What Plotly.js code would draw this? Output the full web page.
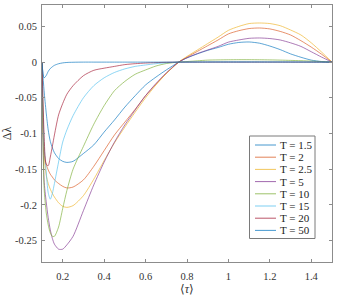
<!DOCTYPE html>
<html>
<head>
<meta charset="utf-8">
<script src="https://cdn.plot.ly/plotly-3.0.1.min.js"></script>
<style>html,body{margin:0;padding:0;background:#fff;}#chart{width:344px;height:299px;}</style>
</head>
<body>
<div id="chart"></div>
<script>
// ---- data ----
var tau = [0.1, 0.11, 0.12, 0.13, 0.14, 0.15, 0.16, 0.18, 0.2, 0.22, 0.25, 0.3, 0.35, 0.4, 0.45, 0.5, 0.55, 0.6, 0.65, 0.7, 0.76, 0.8, 0.85, 0.9, 0.95, 1.0, 1.05, 1.1, 1.15, 1.2, 1.25, 1.3, 1.35, 1.4, 1.45, 1.5];

var dT1_5 = [0, -0.04, -0.07, -0.095, -0.111, -0.12, -0.127, -0.135, -0.139, -0.1405, -0.139, -0.128, -0.116, -0.098, -0.081, -0.063, -0.047, -0.032, -0.021, -0.011, 0, 0.006, 0.0115, 0.0165, 0.0205, 0.025, 0.0275, 0.0282, 0.0265, 0.0225, 0.0175, 0.0115, 0.0068, 0.0028, 0.0008, 0];
var dT2 = [0, -0.125, -0.143, -0.151, -0.157, -0.161, -0.165, -0.17, -0.174, -0.1763, -0.175, -0.165, -0.146, -0.124, -0.102, -0.084, -0.066, -0.047, -0.031, -0.016, 0, 0.007, 0.015, 0.023, 0.031, 0.0395, 0.044, 0.047, 0.0478, 0.0465, 0.043, 0.038, 0.030, 0.021, 0.011, 0];
var dT2_5 = [0, -0.13, -0.158, -0.17, -0.178, -0.184, -0.189, -0.197, -0.202, -0.2035, -0.201, -0.187, -0.164, -0.138, -0.113, -0.091, -0.07, -0.05, -0.032, -0.016, 0, 0.008, 0.017, 0.026, 0.035, 0.0445, 0.05, 0.054, 0.0548, 0.054, 0.051, 0.045, 0.038, 0.027, 0.014, 0];
var dT5 = [0, -0.165, -0.195, -0.218, -0.235, -0.247, -0.255, -0.262, -0.262, -0.256, -0.244, -0.208, -0.172, -0.14, -0.112, -0.088, -0.067, -0.047, -0.03, -0.015, 0, 0.006, 0.012, 0.017, 0.022, 0.028, 0.031, 0.0333, 0.0338, 0.033, 0.031, 0.027, 0.022, 0.0145, 0.007, 0];
var dT10 = [0, -0.175, -0.21, -0.228, -0.239, -0.244, -0.244, -0.231, -0.205, -0.18, -0.15, -0.118, -0.087, -0.061, -0.04, -0.027, -0.017, -0.011, -0.0055, -0.002, 0, 0.0008, 0.0018, 0.0028, 0.0031, 0.0033, 0.0034, 0.0034, 0.0033, 0.0031, 0.0028, 0.0024, 0.002, 0.0014, 0.0007, 0];
var dT15 = [0, -0.115, -0.152, -0.183, -0.192, -0.184, -0.17, -0.14, -0.112, -0.095, -0.075, -0.05, -0.033, -0.022, -0.0145, -0.0095, -0.006, -0.004, -0.0022, -0.001, 0, 0.0002, 0.0004, 0.0005, 0.0006, 0.0006, 0.0006, 0.0006, 0.0006, 0.0005, 0.0005, 0.0004, 0.0003, 0.0002, 0.0001, 0];
var dT20 = [0, -0.1, -0.143, -0.145, -0.133, -0.118, -0.102, -0.074, -0.058, -0.045, -0.033, -0.019, -0.0115, -0.0085, -0.006, -0.0035, -0.0022, -0.0013, -0.0007, -0.0003, 0, 0, 0, 0, 0, 0, 0, 0, 0, 0, 0, 0, 0, 0, 0, 0];
var dT50 = [0, -0.022, -0.019, -0.013, -0.009, -0.0065, -0.0045, -0.0023, -0.0011, -0.0005, -0.0002, 0, 0, 0, 0, 0, 0, 0, 0, 0, 0, 0, 0, 0, 0, 0, 0, 0, 0, 0, 0, 0, 0, 0, 0, 0];

var seriesNames = ['T = 1.5', 'T = 2', 'T = 2.5', 'T = 5', 'T = 10', 'T = 15', 'T = 20', 'T = 50'];
var seriesValues = [dT1_5, dT2, dT2_5, dT5, dT10, dT15, dT20, dT50];

var xTickVals = [0.2, 0.4, 0.6, 0.8, 1.0, 1.2, 1.4];
var xTickText = ['0.2', '0.4', '0.6', '0.8', '1', '1.2', '1.4'];
var yTickVals = [-0.25, -0.2, -0.15, -0.1, -0.05, 0, 0.05];
var yTickText = ['-0.25', '-0.2', '-0.15', '-0.1', '-0.05', '0', '0.05'];

// ---- styles ----
var lineColors = ['#0072BD', '#D95319', '#EDB120', '#7E2F8E', '#77AC30', '#4DBEEE', '#A2142F', '#0072BD'];
var FONT = 'Liberation Serif';
var L = 42, T = 5, W = 290, H = 257;
function px(x) { return (x - L) / W; }
function py(y) { return (T + H - y) / H; }

var traces = seriesValues.map(function (vals, i) {
  return {
    x: tau, y: vals, type: 'scatter', mode: 'lines', name: seriesNames[i],
    line: { color: lineColors[i], width: 0.75, shape: 'spline', smoothing: 0.7 },
    opacity: 0.85,
    showlegend: false, hoverinfo: 'skip'
  };
});

// manual MATLAB-style legend
var shapes = [{
  type: 'rect', xref: 'paper', yref: 'paper',
  x0: px(249.5), x1: px(315), y0: py(238.5), y1: py(136),
  line: { color: '#7a7a7a', width: 1 }, fillcolor: '#ffffff', layer: 'above'
}];
var annotations = [];
seriesNames.forEach(function (n, i) {
  var yc = 145 + i * 12.2;
  shapes.push({
    type: 'line', xref: 'paper', yref: 'paper',
    x0: px(255), x1: px(276), y0: py(yc), y1: py(yc),
    line: { color: lineColors[i], width: 0.9 }, opacity: 0.8, layer: 'above'
  });
  annotations.push({
    xref: 'paper', yref: 'paper', x: px(277.5), y: py(yc),
    xanchor: 'left', yanchor: 'middle', showarrow: false, text: n,
    font: { family: FONT, size: 11, color: '#222' }
  });
});

var axisCommon = {
  showline: true, linecolor: '#8c8c8c', linewidth: 1, mirror: 'ticks',
  ticks: 'inside', ticklen: 3, tickwidth: 1, tickcolor: '#8c8c8c',
  showgrid: false, zeroline: false,
  tickfont: { family: FONT, size: 10.5, color: '#333' }
};

var layout = {
  width: 344, height: 299,
  font: { family: FONT },
  margin: { l: L, r: 344 - L - W, t: T, b: 299 - T - H, pad: 0 },
  paper_bgcolor: '#ffffff', plot_bgcolor: '#ffffff',
  showlegend: false,
  xaxis: Object.assign({}, axisCommon, {
    range: [0.1, 1.5], tickmode: 'array', tickvals: xTickVals, ticktext: xTickText,
    ticklabelstandoff: 4,
    title: { text: '⟨<i>τ</i>⟩', font: { family: FONT, size: 12, color: '#333' }, standoff: 1 }
  }),
  yaxis: Object.assign({}, axisCommon, {
    range: [-0.28, 0.08], tickmode: 'array', tickvals: yTickVals, ticktext: yTickText,
    ticklabelstandoff: 2,
    title: { text: 'Δλ', font: { family: FONT, size: 12, color: '#333' }, standoff: 3 }
  }),
  shapes: shapes,
  annotations: annotations
};

Plotly.newPlot('chart', traces, layout, { staticPlot: true, displayModeBar: false });
</script>
</body>
</html>
